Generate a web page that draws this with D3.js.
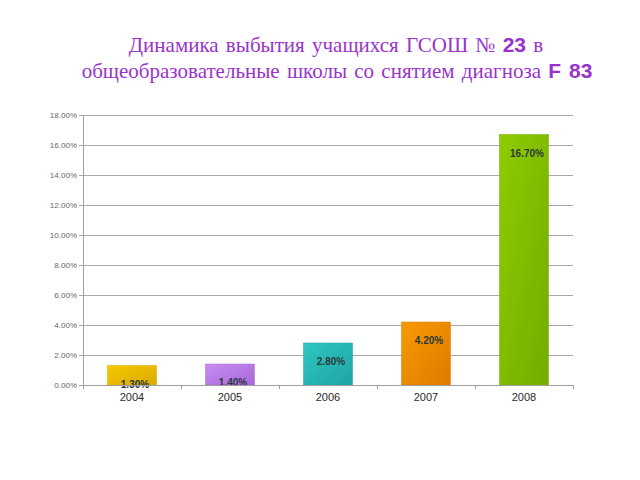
<!DOCTYPE html>
<html>
<head>
<meta charset="utf-8">
<script src="https://cdn.jsdelivr.net/npm/d3@7"></script>
<style>
  body { margin: 0; background: #fff; }
  svg { display: block; }
</style>
</head>
<body>
<svg id="chart" width="640" height="480"></svg>
<script>
// chart data
var years = ["2004", "2005", "2006", "2007", "2008"];
var values = [1.3, 1.4, 2.8, 4.2, 16.7];
var yTicks = [0, 2, 4, 6, 8, 10, 12, 14, 16, 18];
var barColors = ["#f4c800", "#c88cf2", "#30c6c2", "#f99a00", "#8ecc00"];
var barDark = ["#dcaa00", "#a868d8", "#1ea4a4", "#de7a00", "#72ac00"];

var svg = d3.select("#chart");
var plotLeft = 83, plotRight = 573, plotTop = 115, plotBottom = 385;

var x = d3.scaleBand().domain(years).range([plotLeft, plotRight]).paddingInner(0.5).paddingOuter(0.25);
var y = d3.scaleLinear().domain([0, 18]).range([plotBottom, plotTop]);

// title
var title = svg.append("text")
    .attr("text-anchor", "middle")
    .attr("fill", "#9933cc")
    .style("font-family", "'Liberation Serif', 'Times New Roman', serif")
    .style("font-size", "21px")
    .style("word-spacing", "2px");
var line1 = title.append("tspan").attr("x", 336).attr("y", 52);
line1.append("tspan").text("Динамика выбытия учащихся ГСОШ № ");
line1.append("tspan").text("23").style("font-family", "'Liberation Sans', Arial, sans-serif").style("font-weight", "bold");
line1.append("tspan").text(" в");
var line2 = title.append("tspan").attr("x", 337).attr("y", 78);
line2.append("tspan").text("общеобразовательные школы со снятием диагноза ");
line2.append("tspan").text("F 83").style("font-family", "'Liberation Sans', Arial, sans-serif").style("font-weight", "bold");

// gradients for bars
var defs = svg.append("defs");
years.forEach(function (yr, i) {
    var g = defs.append("linearGradient").attr("id", "grad" + i)
        .attr("x1", "0").attr("y1", "0").attr("x2", "1").attr("y2", "1");
    g.append("stop").attr("offset", "0").attr("stop-color", barColors[i]);
    g.append("stop").attr("offset", "1").attr("stop-color", barDark[i]);
});

// grid lines
svg.append("g").selectAll("line").data(yTicks).enter().append("line")
    .attr("x1", plotLeft - 4).attr("x2", plotRight)
    .attr("y1", function (d) { return y(d) + 0.5; })
    .attr("y2", function (d) { return y(d) + 0.5; })
    .attr("stroke", "#a8a8a8").attr("stroke-width", 1);

// y tick labels
svg.append("g").selectAll("text").data(yTicks).enter().append("text")
    .attr("x", plotLeft - 6)
    .attr("y", function (d) { return y(d) + 3; })
    .attr("text-anchor", "end")
    .attr("fill", "#666")
    .style("font-family", "'Liberation Sans', Arial, sans-serif")
    .style("font-size", "8px")
    .text(function (d) { return d.toFixed(2) + "%"; });

// y axis line
svg.append("line").attr("x1", plotLeft + 0.5).attr("x2", plotLeft + 0.5)
    .attr("y1", plotTop).attr("y2", plotBottom + 1)
    .attr("stroke", "#a0a0a0");

// bars
svg.append("g").selectAll("rect").data(values).enter().append("rect")
    .attr("x", function (d, i) { return x(years[i]); })
    .attr("y", function (d) { return y(d); })
    .attr("width", x.bandwidth())
    .attr("height", function (d) { return plotBottom - y(d); })
    .attr("fill", function (d, i) { return "url(#grad" + i + ")"; })
    .attr("stroke", function (d, i) { return barDark[i]; })
    .attr("stroke-width", 0.5);

// value labels
svg.append("g").selectAll("text").data(values).enter().append("text")
    .attr("x", function (d, i) { return x(years[i]) + x.bandwidth() / 2 + 3; })
    .attr("y", function (d) { return Math.min(y(d) + 22, plotBottom + 3); })
    .attr("text-anchor", "middle")
    .attr("fill", "#2a3a3a")
    .style("font-family", "'Liberation Sans', Arial, sans-serif")
    .style("font-size", "10px")
    .style("font-weight", "bold")
    .text(function (d) { return d.toFixed(2) + "%"; });

// x axis
svg.append("line").attr("x1", plotLeft).attr("x2", plotRight)
    .attr("y1", plotBottom + 0.5).attr("y2", plotBottom + 0.5)
    .attr("stroke", "#a0a0a0");
var step = x.step();
svg.append("g").selectAll("line").data(d3.range(years.length + 1)).enter().append("line")
    .attr("x1", function (d) { return plotLeft + d * step + 0.5; })
    .attr("x2", function (d) { return plotLeft + d * step + 0.5; })
    .attr("y1", plotBottom).attr("y2", plotBottom + 4)
    .attr("stroke", "#a0a0a0");
svg.append("g").selectAll("text").data(years).enter().append("text")
    .attr("x", function (d) { return x(d) + x.bandwidth() / 2; })
    .attr("y", plotBottom + 16)
    .attr("text-anchor", "middle")
    .attr("fill", "#2a2a2a")
    .style("font-family", "'Liberation Sans', Arial, sans-serif")
    .style("font-size", "11px")
    .text(function (d) { return d; });
</script>
</body>
</html>
